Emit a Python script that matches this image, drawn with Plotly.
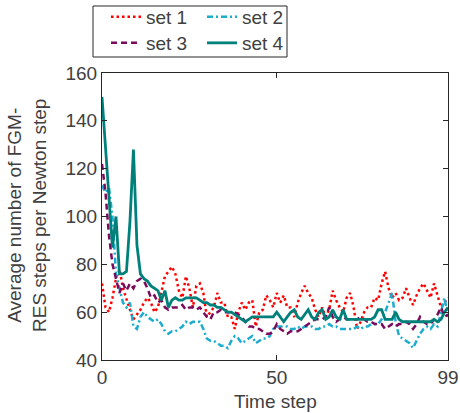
import plotly.graph_objects as go

steps = list(range(100))

set1 = [72, 62, 60, 66, 74, 78, 70, 65, 61, 57, 59, 61, 64, 66, 64, 60, 62, 68, 75, 77,
        79, 76, 69, 66, 75, 70, 62, 71, 72, 68, 58, 60, 62, 68, 64, 64, 58, 58, 53, 60,
        64, 61, 64, 65, 54, 60, 61, 67, 65, 62, 68, 64, 67, 62, 62, 58, 64, 68, 71, 68,
        66, 61, 58, 62, 58, 61, 69, 65, 62, 60, 66, 68, 62, 53, 56, 60, 62, 62, 66, 65,
        72, 77, 70, 66, 68, 65, 66, 70, 66, 63, 67, 70, 72, 69, 66, 72, 67, 62, 64, 66]

set2 = [113, 110, 112, 100, 76, 70, 64, 62, 64, 54, 53, 58, 60, 58, 57, 56, 57, 55, 52, 51,
        52, 52, 53, 54, 56, 55, 56, 56, 56, 53, 49, 48, 48, 47, 46, 46, 45, 48, 50, 49,
        47, 48, 49, 50, 47, 48, 49, 49, 50, 53, 54, 54, 54, 54, 53, 53, 54, 53, 54, 54,
        54, 53, 53, 54, 54, 55, 54, 54, 53, 53, 53, 53, 53, 54, 53, 54, 54, 55, 55, 55,
        57, 60, 64, 68, 56, 50, 49, 48, 47, 45, 48, 51, 53, 54, 53, 55, 54, 60, 66, 58]

set3 = [122, 110, 92, 80, 74, 68, 72, 69, 72, 70, 73, 74, 73, 70, 66, 67, 64, 65, 62, 61,
        62, 62, 62, 63, 61, 62, 62, 61, 62, 60, 58, 57, 60, 60, 61, 60, 60, 60, 60, 59,
        58, 56, 54, 54, 53, 53, 52, 51, 51, 52, 55, 53, 52, 51, 52, 52, 52, 53, 54, 55,
        56, 57, 57, 57, 58, 62, 58, 56, 57, 58, 57, 57, 57, 57, 58, 57, 56, 56, 55, 55,
        55, 53, 54, 55, 54, 55, 55, 56, 55, 53, 55, 58, 56, 55, 55, 57, 59, 62, 58, 59]

set4 = [150, 128, 106, 87, 100, 76, 76, 77, 98, 128, 88, 76, 74, 73, 71, 70, 69, 65, 69, 62,
        65, 66, 65, 65, 66, 66, 66, 66, 65, 64, 64, 63, 63, 62, 62, 61, 60, 60, 59, 58,
        57, 56, 57, 58, 58, 58, 58, 58, 58, 58, 60, 58, 56, 58, 60, 61, 58, 57, 59, 61,
        58, 57, 60, 61, 57, 58, 61, 58, 57, 61, 57, 57, 57, 57, 57, 57, 57, 57, 58, 61,
        61, 57, 57, 57, 60, 57, 56, 56, 56, 56, 56, 56, 56, 56, 56, 57, 56, 57, 60, 62]

x_ticks = [0, 50, 99]
y_ticks = [40, 60, 80, 100, 120, 140, 160]

FONT = "Liberation Sans, Arial, sans-serif"
TXT = "#404040"
AX = "#262626"
FS = 19
W, HT = 460, 413
PL, PR, PT, PB = 102, 448, 73, 360
PW, PH = PR - PL, PB - PT

fig = go.Figure()
fig.add_trace(go.Scatter(x=steps, y=set1, mode="lines", name="set 1",
                         line=dict(color="#FF0000", width=2.5, dash="2.5px,3px"),
                         legend="legend"))
fig.add_trace(go.Scatter(x=steps, y=set2, mode="lines", name="set 2",
                         line=dict(color="#1CADCE", width=2.5, dash="6px,3px,2px,3px"),
                         legend="legend"))
fig.add_trace(go.Scatter(x=steps, y=set3, mode="lines", name="set 3",
                         line=dict(color="#7A0B5C", width=2.5, dash="6px,4px"),
                         legend="legend2"))
fig.add_trace(go.Scatter(x=steps, y=set4, mode="lines", name="set 4",
                         line=dict(color="#00807A", width=2.8),
                         legend="legend2"))

def cy(p):
    return 1 - p / HT

def cx(p):
    return p / W

def px_(p):
    return (p - PL) / PW

def py_(p):
    return (PB - p) / PH

leg_common = dict(orientation="h", xanchor="left", yanchor="middle",
                  xref="container", yref="container",
                  x=cx(106), bgcolor="rgba(0,0,0,0)", borderwidth=0,
                  entrywidth=51, entrywidthmode="pixels",
                  font=dict(family=FONT, size=FS, color=TXT),
                  itemwidth=30, tracegroupgap=0)

fig.update_layout(
    width=W, height=HT,
    margin=dict(l=PL, r=W - PR, t=PT, b=HT - PB, autoexpand=False),
    paper_bgcolor="white", plot_bgcolor="white",
    font=dict(family=FONT, size=FS, color=TXT),
    legend=dict(leg_common, y=cy(17)),
    legend2=dict(leg_common, y=cy(43)),
    xaxis=dict(range=[0, 99], tickvals=x_ticks, ticktext=[str(v) for v in x_ticks],
               showgrid=False, zeroline=False, showline=True, mirror="ticks",
               linecolor=AX, linewidth=1, ticks="inside", ticklen=5, tickcolor=AX,
               tickfont=dict(size=FS, color=TXT), automargin=False),
    yaxis=dict(range=[40, 160], tickvals=y_ticks, showgrid=False, zeroline=False,
               showline=True, mirror="ticks", linecolor=AX, linewidth=1,
               ticks="inside", ticklen=5, tickcolor=AX,
               tickfont=dict(size=FS, color=TXT), automargin=False),
    annotations=[
        dict(text="Average number of FGM-<br>RES steps per Newton step",
             xref="paper", yref="paper", x=px_(27), y=py_(216),
             xanchor="center", yanchor="middle", textangle=-90, showarrow=False,
             font=dict(family=FONT, size=FS, color=TXT)),
        dict(text="Time step", xref="paper", yref="paper", x=px_(275), y=py_(401),
             xanchor="center", yanchor="middle", showarrow=False,
             font=dict(family=FONT, size=FS, color=TXT)),
    ],
    shapes=[dict(type="rect", xref="paper", yref="paper",
                 x0=px_(93), x1=px_(287), y0=py_(57), y1=py_(6),
                 line=dict(color=AX, width=1))],
)

fig.write_html("out.html", config={"displayModeBar": False},
               post_script="document.body.style.margin='0px';")
